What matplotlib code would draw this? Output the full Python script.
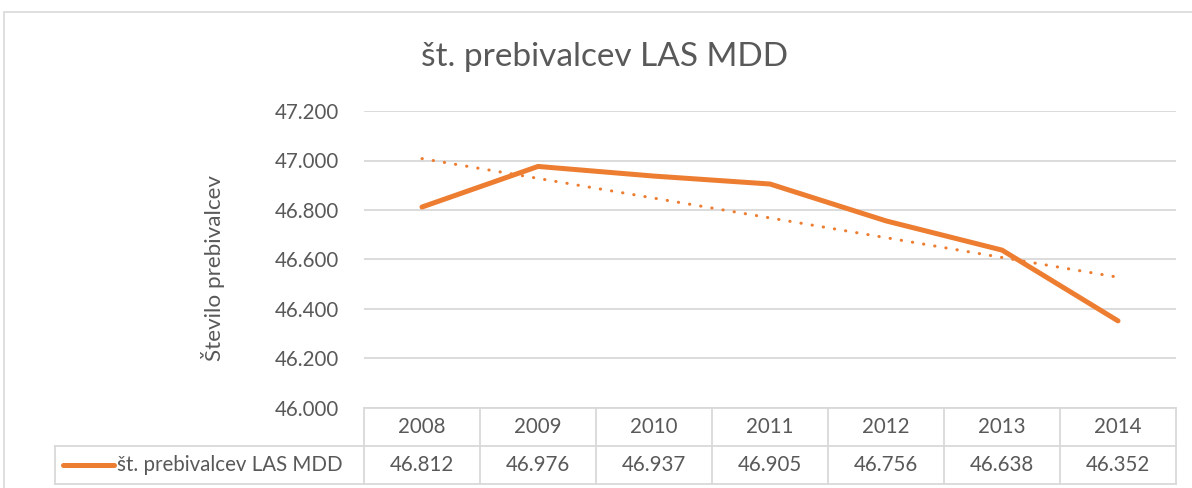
import numpy as np
import matplotlib
matplotlib.use("Agg")
import matplotlib.pyplot as plt
from matplotlib.lines import Line2D
from matplotlib.patches import Rectangle

years = ["2008", "2009", "2010", "2011", "2012", "2013", "2014"]
values = [46.812, 46.976, 46.937, 46.905, 46.756, 46.638, 46.352]
value_labels = ["46.812", "46.976", "46.937", "46.905", "46.756", "46.638", "46.352"]
yticks = [46.0, 46.2, 46.4, 46.6, 46.8, 47.0, 47.2]
ytick_labels = ["46.000", "46.200", "46.400", "46.600", "46.800", "47.000", "47.200"]
series_name = "št. prebivalcev LAS MDD"
title = "št. prebivalcev LAS MDD"
ylabel = "Število prebivalcev"

plt.rcParams['font.family'] = ['Lato', 'DejaVu Sans']
W, H = 1192, 488
fig = plt.figure(figsize=(W / 100, H / 100), dpi=100)
orange = "#ED7D31"
grid_c = "#D9D9D9"
text_c = "#595959"
fs = 14.8

def fx(px):
    return px / W

def fy(py):
    return 1 - py / H

# outer chart border
fig.patches.append(Rectangle((fx(4), fy(520)), fx(1300), fy(12) - fy(520),
                             transform=fig.transFigure, fill=False,
                             edgecolor="#D9D9D9", lw=1.2))

left, right, top, bottom = 364, 1176, 111, 408
ax = fig.add_axes([fx(left), fy(bottom), fx(right - left), fy(top) - fy(bottom)])
x = np.arange(1, len(values) + 1)
ax.set_xlim(0.5, len(values) + 0.5)
ax.set_ylim(yticks[0], yticks[-1])
for s in ax.spines.values():
    s.set_visible(False)
ax.set_yticks(yticks)
ax.set_yticklabels(ytick_labels)
ax.tick_params(axis='y', length=0, pad=18, labelsize=fs, labelcolor=text_c)
ax.set_xticks([])
ax.grid(axis='y', color=grid_c, lw=1.3)
ax.set_axisbelow(True)

ax.plot(x, values, color=orange, lw=3.6, solid_capstyle='round', solid_joinstyle='round', zorder=3)
coef = np.polyfit(x, values, 1)
xt = np.array([x[0], x[-1]])
ax.plot(xt, np.polyval(coef, xt), color=orange, lw=2.2, linestyle=(0, (0.1, 3.6)),
        dash_capstyle='round', zorder=2)

fig.text(fx(605), fy(57), title, ha='center', va='center', fontsize=24, color=text_c)
fig.text(fx(213), fy(268), ylabel, ha='center', va='center', rotation=90,
         fontsize=16.2, color=text_c)

# data table
r0, r1, r2 = 408, 446, 484
col_w = (right - left) / len(years)
lines = []
lines.append(((left, right), (r0, r0)))
lines.append(((55, right), (r1, r1)))
lines.append(((55, right), (r2, r2)))
lines.append(((55, 55), (r1, r2)))
for i in range(len(years) + 1):
    xx = left + i * col_w
    lines.append(((xx, xx), (r0, r2)))
for (xs, ys) in lines:
    fig.add_artist(Line2D([fx(xs[0]), fx(xs[1])], [fy(ys[0]), fy(ys[1])],
                          transform=fig.transFigure, color=grid_c, lw=1.3))
for i, (yr, vl) in enumerate(zip(years, value_labels)):
    cx = left + (i + 0.5) * col_w
    fig.text(fx(cx), fy((r0 + r1) / 2), yr, ha='center', va='center', fontsize=fs, color=text_c)
    fig.text(fx(cx), fy((r1 + r2) / 2), vl, ha='center', va='center', fontsize=fs, color=text_c)
fig.add_artist(Line2D([fx(63), fx(114)], [fy(465), fy(465)], transform=fig.transFigure,
                      color=orange, lw=3.6, solid_capstyle='round'))
fig.text(fx(117), fy(465), series_name, ha='left', va='center', fontsize=fs, color=text_c)

fig.savefig("out.png", dpi=100, facecolor="white")
